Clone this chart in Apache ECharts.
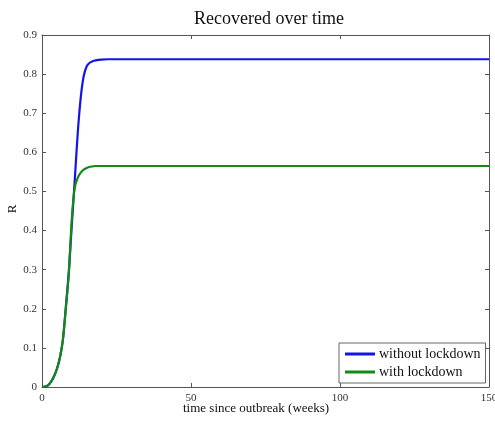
<!DOCTYPE html>
<html>
<head>
<meta charset="utf-8">
<script src="https://cdn.jsdelivr.net/npm/echarts@6/dist/echarts.min.js"></script>
<style>
  html, body { margin: 0; padding: 0; background: #fff; }
  #chart { width: 495px; height: 421px; }
</style>
</head>
<body>
<div id="chart"></div>
<script>
// Time since outbreak (weeks) at which the recovered fraction was sampled
const weeks = [0, 1, 2, 3, 4, 5, 6, 7, 8, 9, 10, 11, 12, 13, 14, 15, 16, 17, 18, 20, 22, 25, 30, 50, 100, 150];

// Recovered fraction R without lockdown
const withoutLockdown = [0, 0.001, 0.004, 0.013, 0.027, 0.046, 0.075, 0.12, 0.205, 0.295, 0.415, 0.53, 0.65, 0.74, 0.795, 0.82, 0.829, 0.833, 0.835, 0.837, 0.838, 0.838, 0.838, 0.838, 0.838, 0.838];

// Recovered fraction R with lockdown
const withLockdown = [0, 0.001, 0.004, 0.013, 0.027, 0.046, 0.075, 0.12, 0.2, 0.29, 0.43, 0.51, 0.535, 0.548, 0.556, 0.56, 0.563, 0.564, 0.565, 0.565, 0.565, 0.565, 0.565, 0.565, 0.565, 0.565];

const seriesNames = ['without lockdown', 'with lockdown'];
const xTicks = { min: 0, max: 150, interval: 50 };
const yTicks = { min: 0, max: 0.9, interval: 0.1 };

const serif = 'Liberation Serif, Times New Roman, serif';
const axisColor = '#555';

const pairs = (vals) => weeks.map((w, i) => [w, vals[i]]);

const chart = echarts.init(document.getElementById('chart'));

const baseX = {
  type: 'value', min: xTicks.min, max: xTicks.max, interval: xTicks.interval,
  axisLine: { show: true, onZero: false, lineStyle: { color: axisColor, width: 1 } },
  axisTick: { show: true, inside: true, length: 4, lineStyle: { color: axisColor } },
  splitLine: { show: false }
};
const baseY = {
  type: 'value', min: yTicks.min, max: yTicks.max, interval: yTicks.interval,
  axisLine: { show: true, onZero: false, lineStyle: { color: axisColor, width: 1 } },
  axisTick: { show: true, inside: true, length: 4, lineStyle: { color: axisColor } },
  splitLine: { show: false }
};

chart.setOption({
  animation: false,
  backgroundColor: '#fff',
  title: {
    text: 'Recovered over time',
    left: 264, top: 5, textAlign: 'center',
    textStyle: { fontFamily: serif, fontSize: 18, fontWeight: 'normal', color: '#111' }
  },
  grid: { left: 42, right: 6, top: 35, bottom: 34, containLabel: false, outerBoundsMode: 'none' },
  xAxis: [
    Object.assign({}, baseX, {
      position: 'bottom',
      axisLabel: { show: true, margin: 6, fontFamily: serif, fontSize: 11, color: '#333' }
    }),
    Object.assign({}, baseX, { position: 'top', axisLabel: { show: false } })
  ],
  yAxis: [
    Object.assign({}, baseY, {
      position: 'left',
      axisLabel: {
        show: true, margin: 5, fontFamily: serif, fontSize: 11, color: '#333',
        formatter: (v) => (v === 0 ? '0' : v.toFixed(1))
      }
    }),
    Object.assign({}, baseY, { position: 'right', axisLabel: { show: false } })
  ],
  legend: {
    orient: 'vertical',
    left: 339, top: 343,
    width: 146,
    padding: [4, 5, 4, 6],
    itemGap: 4,
    itemWidth: 30, itemHeight: 3,
    icon: 'rect',
    backgroundColor: '#fff',
    borderColor: '#666', borderWidth: 1,
    textStyle: { fontFamily: serif, fontSize: 14, color: '#111', padding: [0, 0, 0, -1] },
    data: seriesNames
  },
  graphic: [
    {
      type: 'text', left: 183, top: 402,
      style: { text: 'time since outbreak (weeks)', font: '13px ' + serif, fill: '#111' }
    },
    {
      type: 'text', x: 13, y: 209, rotation: Math.PI / 2,
      style: { text: 'R', font: '13px ' + serif, fill: '#111', align: 'center', verticalAlign: 'middle' }
    }
  ],
  series: [
    {
      name: seriesNames[0], type: 'line', data: pairs(withoutLockdown),
      smooth: 0.3, showSymbol: false, symbol: 'none',
      lineStyle: { color: '#1414e6', width: 2.2 }, itemStyle: { color: '#1414e6' }
    },
    {
      name: seriesNames[1], type: 'line', data: pairs(withLockdown),
      smooth: 0.3, showSymbol: false, symbol: 'none',
      lineStyle: { color: '#138a13', width: 2.2 }, itemStyle: { color: '#138a13' }
    }
  ]
});
</script>
</body>
</html>
